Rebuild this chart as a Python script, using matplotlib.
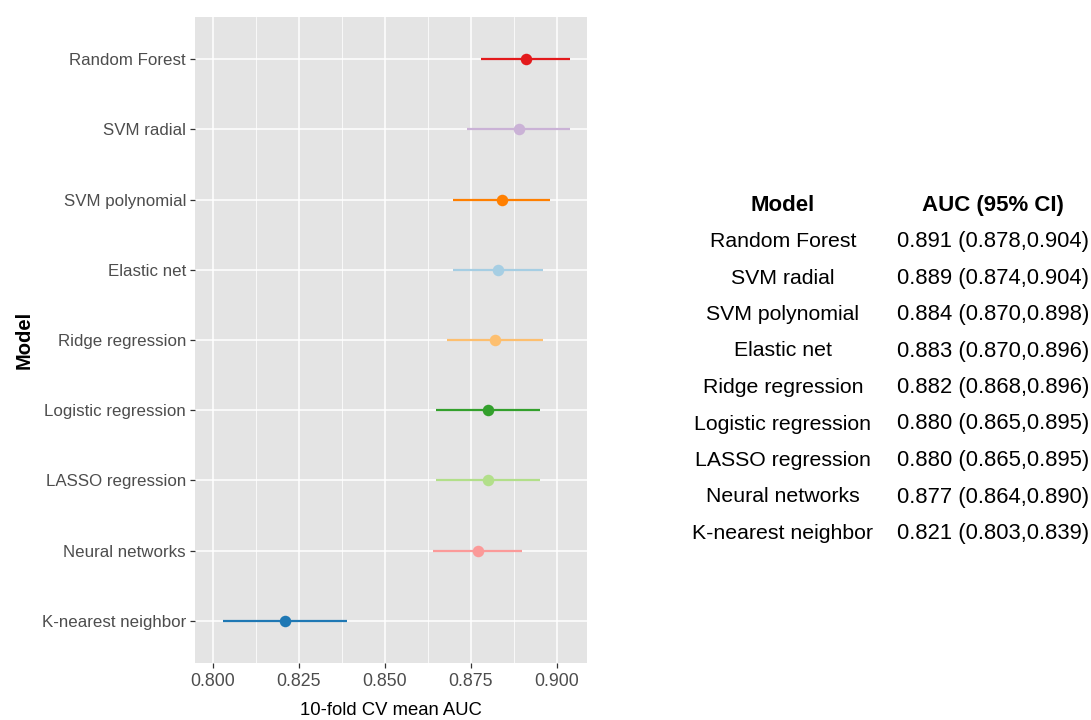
"""
Forest-style plot of 10-fold CV mean AUC per model, with a text table of
AUC (95% CI) on the right.
"""

import matplotlib
matplotlib.use("Agg")
import matplotlib.pyplot as plt
from matplotlib.ticker import MultipleLocator
import numpy as np

plt.rcParams["font.family"] = ["Liberation Sans", "DejaVu Sans"]

# ── data ─────────────────────────────────────────────────────────────────────
MODELS = ["Random Forest", "SVM radial", "SVM polynomial", "Elastic net",
          "Ridge regression", "Logistic regression", "LASSO regression",
          "Neural networks", "K-nearest neighbor"]
AUC    = [0.891, 0.889, 0.884, 0.883, 0.882, 0.880, 0.880, 0.877, 0.821]
LOWER  = [0.878, 0.874, 0.870, 0.870, 0.868, 0.865, 0.865, 0.864, 0.803]
UPPER  = [0.904, 0.904, 0.898, 0.896, 0.896, 0.895, 0.895, 0.890, 0.839]
COLORS = ["#E31A1C", "#CAB2D6", "#FF7F00", "#A6CEE3", "#FDBF6F",
          "#33A02C", "#B2DF8A", "#FB9A99", "#1F78B4"]
XTICKS = [0.800, 0.825, 0.850, 0.875, 0.900]
XLIM   = (0.7949, 0.9088)

W, H = 1091, 720
fig = plt.figure(figsize=(W / 100, H / 100), dpi=100)
fig.patch.set_facecolor("white")

# ── left: point-range panel ──────────────────────────────────────────────────
ax = fig.add_axes([195 / W, 1 - 663 / H, 392 / W, 646 / H])
ax.set_facecolor("#E4E4E4")

n = len(MODELS)
ypos = np.arange(n)[::-1]  # first model on top
for y, m, lo, hi, c in zip(ypos, AUC, LOWER, UPPER, COLORS):
    ax.hlines(y, lo, hi, color=c, linewidth=1.6, zorder=3)
    ax.plot(m, y, "o", color=c, markersize=8.3, markeredgewidth=0, zorder=4)

ax.set_xlim(*XLIM)
ax.set_ylim(-0.6, n - 1 + 0.6)
ax.set_xticks(XTICKS)
ax.set_xticklabels([f"{t:.3f}" for t in XTICKS])
ax.xaxis.set_minor_locator(MultipleLocator(0.0125))
ax.set_yticks(ypos)
ax.set_yticklabels(MODELS)

ax.grid(which="major", color="white", linewidth=1.1)
ax.grid(which="minor", axis="x", color="white", linewidth=0.55)
ax.set_axisbelow(True)
for s in ax.spines.values():
    s.set_visible(False)
ax.tick_params(which="major", length=3.5, width=0.9, color="#333333",
               labelcolor="#4D4D4D", pad=3)
ax.tick_params(axis="y", labelsize=12.2)
ax.tick_params(axis="x", labelsize=12.8, pad=4)
ax.tick_params(which="minor", length=0)

ax.set_xlabel("10-fold CV mean AUC", fontsize=13.3, color="black",
              labelpad=8)
ax.set_ylabel("Model", fontsize=14.5, fontweight="bold", color="black",
              labelpad=6)

# ── right: AUC table as text (baseline-aligned rows) ─────────────────────────
col1_x, col2_x = 783 / W, 993 / W
head_base = 211
row0_base, row_dy = 247, 36.5

fig.text(col1_x, 1 - head_base / H, "Model", ha="center", va="baseline",
         fontsize=16, fontweight="bold")
fig.text(col2_x, 1 - head_base / H, "AUC (95% CI)", ha="center",
         va="baseline", fontsize=16, fontweight="bold")
for i, (name, m, lo, hi) in enumerate(zip(MODELS, AUC, LOWER, UPPER)):
    yy = 1 - (row0_base + i * row_dy) / H
    fig.text(col1_x, yy, name, ha="center", va="baseline", fontsize=15.3)
    fig.text(col2_x, yy, f"{m:.3f} ({lo:.3f},{hi:.3f})", ha="center",
             va="baseline", fontsize=15.8)

fig.savefig("out.png", dpi=100, facecolor=fig.get_facecolor())
plt.close(fig)
